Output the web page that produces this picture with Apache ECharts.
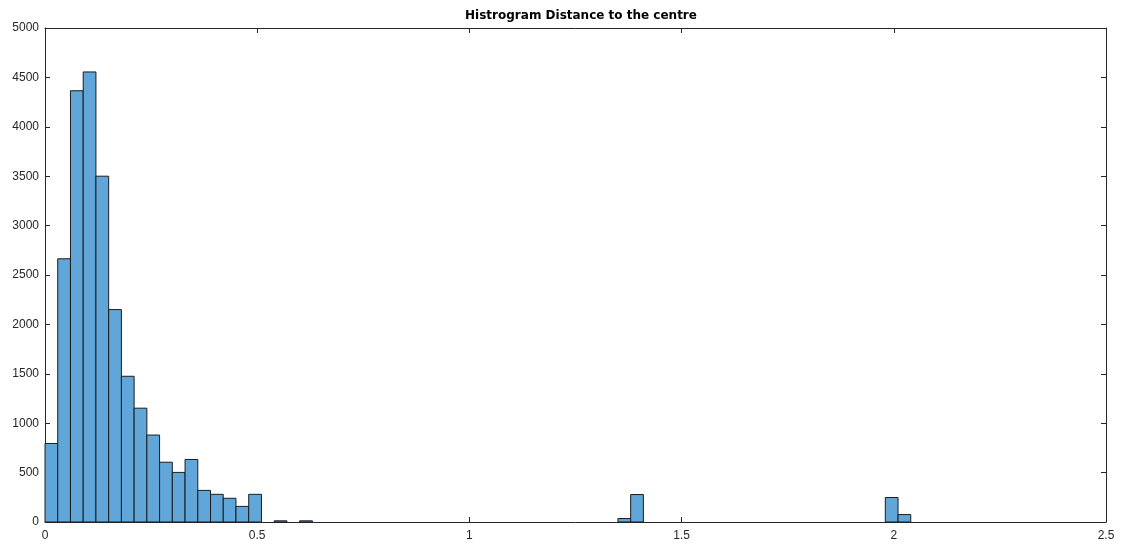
<!DOCTYPE html>
<html>
<head>
<meta charset="utf-8">
<script src="https://cdn.jsdelivr.net/npm/echarts@6/dist/echarts.min.js"></script>
<style>html,body{margin:0;padding:0;background:#fff}#c{width:1124px;height:550px}</style>
</head>
<body>
<div id="c"></div>
<script>
// Histogram bins (bin width 0.03)
const binWidth = 0.03;
const binStarts = [0, 0.03, 0.06, 0.09, 0.12, 0.15, 0.18, 0.21, 0.24, 0.27, 0.30, 0.33, 0.36, 0.39, 0.42, 0.45, 0.48, 0.54, 0.60, 1.35, 1.38, 1.98, 2.01];
const counts    = [795, 2664, 4365, 4555, 3500, 2150, 1475, 1152, 880, 605, 502, 633, 320, 280, 240, 158, 280, 12, 12, 35, 278, 248, 75];
const xTicks = [0, 0.5, 1, 1.5, 2, 2.5];
const yTicks = [0, 500, 1000, 1500, 2000, 2500, 3000, 3500, 4000, 4500, 5000];

const data = binStarts.map((s, i) => [s, +(s + binWidth).toFixed(4), counts[i]]);
const axisColor = '#262626';
const font = 'Liberation Sans, Arial, sans-serif';

const chart = echarts.init(document.getElementById('c'), null, {renderer: 'canvas'});
chart.setOption({
  animation: false,
  backgroundColor: '#fff',
  title: {
    text: 'Histrogram Distance to the centre',
    left: 576, top: 5, textAlign: 'center',
    textStyle: {fontFamily: 'DejaVu Sans, sans-serif', fontSize: 12, fontWeight: 'bold', color: '#000'}
  },
  grid: {left: 45, right: 18, top: 28, bottom: 28},
  xAxis: [{
    type: 'value', min: 0, max: 2.5, interval: 0.5, position: 'bottom',
    axisLine: {show: true, onZero: false, lineStyle: {color: axisColor, width: 1}},
    axisTick: {show: true, inside: true, length: 5, lineStyle: {color: axisColor}},
    axisLabel: {color: axisColor, fontFamily: font, fontSize: 12, margin: 8,
      formatter: v => String(+v.toFixed(2))},
    splitLine: {show: false}
  }, {
    type: 'value', min: 0, max: 2.5, interval: 0.5, position: 'top',
    axisLine: {show: true, onZero: false, lineStyle: {color: axisColor, width: 1}},
    axisTick: {show: true, inside: true, length: 5, lineStyle: {color: axisColor}},
    axisLabel: {show: false}, splitLine: {show: false}
  }],
  yAxis: [{
    type: 'value', min: 0, max: 5000, interval: 500, position: 'left',
    axisLine: {show: true, onZero: false, lineStyle: {color: axisColor, width: 1}},
    axisTick: {show: true, inside: true, length: 5, lineStyle: {color: axisColor}},
    axisLabel: {color: axisColor, fontFamily: font, fontSize: 12, margin: 6,
      formatter: v => String(v)},
    splitLine: {show: false}
  }, {
    type: 'value', min: 0, max: 5000, interval: 500, position: 'right',
    axisLine: {show: true, onZero: false, lineStyle: {color: axisColor, width: 1}},
    axisTick: {show: true, inside: true, length: 5, lineStyle: {color: axisColor}},
    axisLabel: {show: false}, splitLine: {show: false}
  }],
  series: [{
    type: 'custom',
    xAxisIndex: 0, yAxisIndex: 0,
    data: data,
    encode: {x: [0, 1], y: 2},
    renderItem: function (params, api) {
      const p0 = api.coord([api.value(0), api.value(2)]);
      const p1 = api.coord([api.value(1), 0]);
      return {
        type: 'rect',
        shape: {x: p0[0], y: p0[1], width: p1[0] - p0[0], height: p1[1] - p0[1]},
        style: {fill: '#61a6d8', stroke: '#1c1c1c', lineWidth: 1}
      };
    }
  }]
});
</script>
</body>
</html>
